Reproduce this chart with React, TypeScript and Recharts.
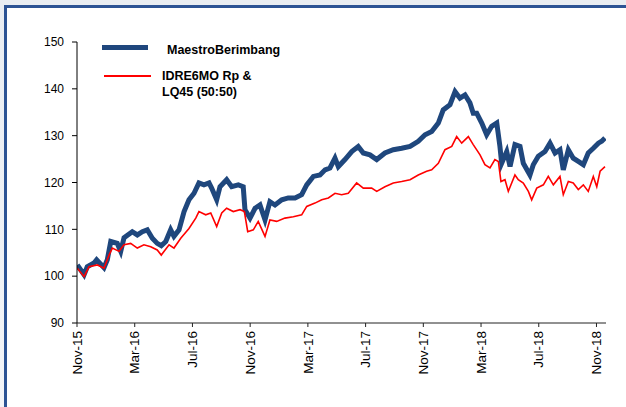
import React from 'react';
import { LineChart, Line, XAxis, YAxis } from 'recharts';

// time in months since Nov-15
const maestroT = [0.02, 0.49, 0.71, 1.18, 1.36, 1.87, 2.1, 2.34, 2.79, 3.03, 3.26, 3.83, 4.18, 4.53, 4.87, 5.22, 5.56, 5.84, 6.15, 6.49, 6.72, 7.07, 7.42, 7.76, 8.11, 8.45, 8.8, 9.15, 9.33, 9.68, 9.91, 10.37, 10.72, 11.18, 11.52, 11.64, 11.99, 12.34, 12.68, 13.03, 13.37, 13.72, 14.19, 14.64, 15.11, 15.57, 15.92, 16.38, 16.84, 17.19, 17.53, 17.88, 18.11, 18.57, 19.04, 19.49, 19.84, 20.3, 20.77, 21.34, 21.92, 22.5, 23.08, 23.65, 24.12, 24.58, 25.04, 25.38, 25.85, 26.2, 26.54, 26.89, 27.23, 27.46, 27.7, 28.05, 28.39, 28.74, 29.09, 29.31, 29.43, 29.78, 30.01, 30.35, 30.7, 30.93, 31.39, 31.62, 31.97, 32.43, 32.78, 33.13, 33.47, 33.7, 34.05, 34.39, 34.74, 35.09, 35.43, 35.78, 36.13, 36.36, 36.59];
const maestroV = [102.4, 100.3, 102, 102.8, 103.5, 101.8, 103.5, 107.4, 107, 105.3, 108.2, 109.5, 108.8, 109.5, 109.9, 108.1, 107, 106.5, 107.4, 109.9, 108.5, 109.9, 113.8, 116.3, 117.7, 119.9, 119.5, 119.9, 118.8, 116.3, 119.1, 120.6, 119.1, 119.5, 119.1, 114.2, 112.4, 114.5, 115.2, 112, 115.9, 115.2, 116.3, 116.7, 116.7, 117.4, 119.5, 121.3, 121.6, 122.7, 123.1, 125.2, 123.4, 124.9, 126.6, 127.7, 126.3, 125.9, 124.9, 126.3, 127, 127.3, 127.7, 128.8, 130.2, 130.9, 132.7, 135.5, 136.6, 139.4, 138, 138.7, 137, 134.8, 134.8, 132.7, 130.2, 132, 132.7, 127.7, 124.1, 126.6, 123.4, 128.1, 127.7, 124.1, 121.6, 123.8, 125.6, 126.6, 128.4, 126.3, 127, 122.7, 127, 125.2, 124.5, 123.8, 126.3, 127.3, 128.4, 128.8, 129.5];

const idreT = [0.02, 0.49, 0.83, 1.41, 1.87, 2.22, 2.45, 2.91, 3.26, 3.72, 4.18, 4.64, 5.11, 5.56, 5.84, 6.38, 6.72, 7.19, 7.76, 8.23, 8.45, 8.92, 9.27, 9.68, 10.03, 10.37, 10.83, 11.3, 11.6, 11.83, 12.22, 12.56, 13.03, 13.37, 13.84, 14.41, 14.99, 15.57, 15.92, 16.49, 16.96, 17.42, 17.88, 18.34, 18.8, 19.38, 19.84, 20.42, 20.77, 21.34, 21.92, 22.5, 23.08, 23.65, 24.23, 24.58, 25.04, 25.5, 25.97, 26.31, 26.66, 27.12, 27.46, 27.93, 28.27, 28.62, 28.96, 29.2, 29.38, 29.66, 29.89, 30.35, 30.58, 30.93, 31.28, 31.51, 31.86, 32.32, 32.66, 33.01, 33.47, 33.7, 34.05, 34.39, 34.74, 35.09, 35.43, 35.78, 36.02, 36.25, 36.59];
const idreV = [101.7, 99.9, 102, 102.4, 101.7, 104.5, 106, 105.3, 106.7, 107, 106, 106.7, 106.3, 105.6, 104.5, 106.7, 106, 108.1, 110.2, 112.4, 113.8, 113.1, 113.5, 110.6, 113.5, 114.5, 113.8, 114.2, 113.8, 109.5, 109.9, 111.7, 108.5, 112, 111.7, 112.4, 112.7, 113.1, 114.9, 115.6, 116.3, 116.7, 117.7, 117.4, 117.7, 119.9, 118.8, 118.8, 118.1, 119.1, 119.9, 120.2, 120.6, 121.6, 122.4, 122.7, 124.1, 127, 127.7, 129.8, 128.4, 129.8, 128.1, 125.9, 123.8, 123.1, 124.9, 124.5, 120.2, 120.6, 118.1, 121.6, 120.6, 119.9, 118.1, 116.3, 118.8, 119.5, 121.3, 119.5, 121.3, 117.4, 120.2, 119.9, 118.5, 119.5, 118.1, 121.3, 119.1, 122.4, 123.4];

const xTicks = [0, 4, 8, 12, 16, 20, 24, 28, 32, 36];
const xTickLabels = ['Nov-15', 'Mar-16', 'Jul-16', 'Nov-16', 'Mar-17', 'Jul-17', 'Nov-17', 'Mar-18', 'Jul-18', 'Nov-18'];
const yTicks = [90, 100, 110, 120, 130, 140, 150];

const seriesNames = ['MaestroBerimbang', 'IDRE6MO Rp & LQ45 (50:50)'];

type Row = { t: number; maestro?: number; idre?: number };
const rows: Row[] = [
  ...maestroT.map((t, i) => ({ t, maestro: maestroV[i] })),
  ...idreT.map((t, i) => ({ t, idre: idreV[i] })),
].sort((a, b) => a.t - b.t);

const FONT = '"Liberation Sans", Arial, sans-serif';
const BLUE = '#1f477d';
const RED = '#ff0000';

const XTick = (props: any) => {
  const { x, y, payload } = props;
  const idx = xTicks.indexOf(payload.value);
  return (
    <text
      x={x}
      y={y}
      transform={`rotate(-90 ${x} ${y})`}
      textAnchor="end"
      dy="0.35em"
      fontSize={13.5}
      fontFamily={FONT}
      fill="#000"
    >
      {xTickLabels[idx]}
    </text>
  );
};

export default function App() {
  return (
    <div
      style={{
        position: 'absolute',
        left: 0,
        top: 0,
        width: 626,
        height: 407,
        overflow: 'hidden',
        background: 'linear-gradient(#e9edf2, #f3f5f8)',
        fontFamily: FONT,
      }}
    >
      <div
        style={{
          position: 'absolute',
          left: 4,
          top: 5,
          width: 700,
          height: 500,
          background: '#fff',
          border: '3px solid #2c5394',
          boxSizing: 'border-box',
        }}
      />
      <div style={{ position: 'absolute', left: 0, top: 0 }}>
        <LineChart
          width={626}
          height={407}
          data={rows}
          margin={{ top: 42, right: 20, bottom: 34, left: 37 }}
        >
          <XAxis
            dataKey="t"
            type="number"
            domain={[0, 36.66]}
            ticks={xTicks}
            interval={0}
            tick={<XTick />}
            tickSize={4}
            tickMargin={4}
            height={50}
            stroke="#222"
            allowDataOverflow
          />
          <YAxis
            type="number"
            domain={[90, 150]}
            ticks={yTicks}
            interval={0}
            width={40}
            tickSize={5}
            tickMargin={8}
            stroke="#000"
            tick={{ fontSize: 12, fill: '#000', fontFamily: FONT }}
            allowDataOverflow
          />
          <Line
            type="linear"
            dataKey="maestro"
            name={seriesNames[0]}
            stroke={BLUE}
            strokeWidth={5}
            dot={false}
            connectNulls
            isAnimationActive={false}
          />
          <Line
            type="linear"
            dataKey="idre"
            name={seriesNames[1]}
            stroke={RED}
            strokeWidth={1.6}
            dot={false}
            connectNulls
            isAnimationActive={false}
          />
        </LineChart>
      </div>
      <div style={{ position: 'absolute', left: 102, top: 45, width: 46, height: 5, background: BLUE }} />
      <div
        style={{
          position: 'absolute',
          left: 167,
          top: 43,
          fontSize: 12.5,
          fontWeight: 'bold',
          lineHeight: '15px',
          color: '#000',
          whiteSpace: 'nowrap',
        }}
      >
        {seriesNames[0]}
      </div>
      <div style={{ position: 'absolute', left: 104, top: 75, width: 47, height: 2, background: RED }} />
      <div
        style={{
          position: 'absolute',
          left: 162,
          top: 69,
          width: 110,
          fontSize: 12.5,
          fontWeight: 'bold',
          lineHeight: '15.5px',
          color: '#000',
        }}
      >
        {seriesNames[1]}
      </div>
    </div>
  );
}
